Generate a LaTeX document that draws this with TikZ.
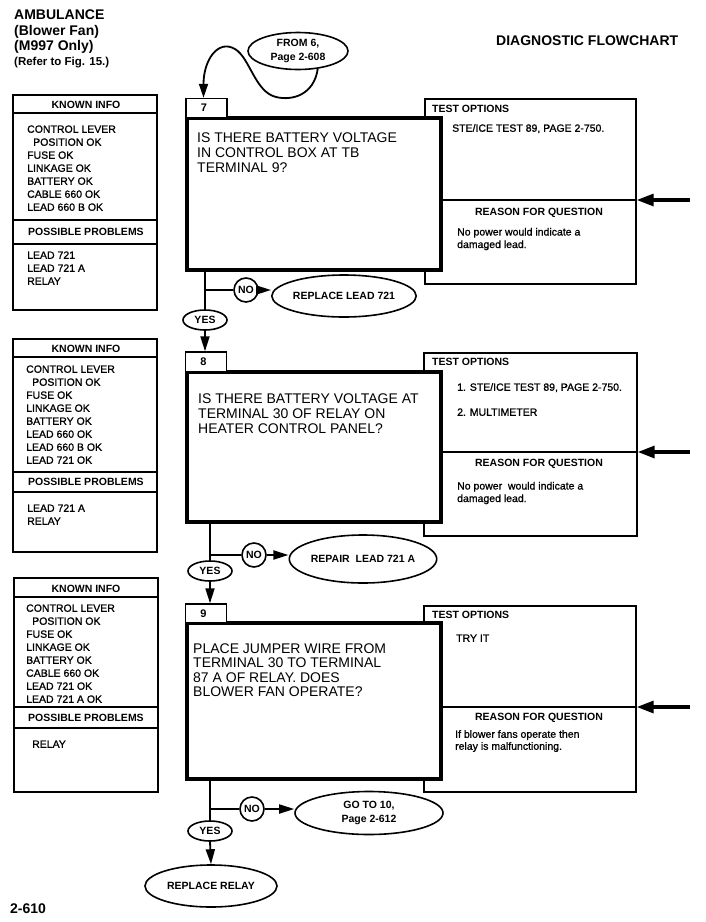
\documentclass[tikz,border=0pt]{standalone}
\usepackage{fontspec}
\setmainfont{Liberation Sans}
\newfontfamily\itemfont[FakeBold=1.1]{Liberation Sans}
\usetikzlibrary{shapes.geometric,arrows.meta}
\begin{document}
\begin{tikzpicture}[x=1pt,y=-1pt,
  frame/.style={draw, line width=1.4pt, inner sep=0pt},
  mainq/.style={draw, line width=4pt, fill=white, inner sep=0pt, minimum width=254pt},
  numbox/.style={draw, line width=1.4pt, fill=white, inner sep=0pt, minimum width=41pt, minimum height=19pt, font=\bfseries\fontsize{11}{13}\selectfont},
  item/.style={anchor=base west, inner sep=0pt, font=\itemfont\fontsize{10.5}{13}\selectfont},
  head/.style={anchor=base, inner sep=0pt, font=\bfseries\fontsize{10.5}{13}\selectfont},
  bhead/.style={anchor=base west, inner sep=0pt, font=\bfseries\fontsize{10.5}{13}\selectfont},
  qline/.style={anchor=base west, inner sep=0pt, font=\fontsize{14}{15}\selectfont},
  title/.style={anchor=base west, inner sep=0pt, font=\bfseries\fontsize{14}{16}\selectfont},
  oval/.style={draw, ellipse, line width=1.6pt, fill=white, inner sep=0pt, align=center, font=\bfseries\fontsize{10.5}{13.5}\selectfont},
  yesoval/.style={oval, minimum width=44pt, minimum height=20pt},
  nocirc/.style={draw, circle, line width=1.6pt, fill=white, inner sep=0pt, minimum size=24pt, font=\bfseries\fontsize{10.5}{13}\selectfont},
  conn/.style={line width=1.8pt},
  tip/.style={conn, -{Triangle[length=15pt,width=9pt]}},
  bigtip/.style={line width=3.2pt, -{Triangle[length=17pt,width=12pt]}},
  divider/.style={line width=1.4pt}
]
\useasboundingbox (0,0) rectangle (705,922);

% ---------- header ----------
\node[title] (h1) at (14,19.3) {AMBULANCE};
\node[title] (h2) at (14,35) {(Blower Fan)};
\node[title] (h3) at (14,50.5) {(M997 Only)};
\node[anchor=base west, inner sep=0pt, font=\bfseries\fontsize{11.5}{13}\selectfont] (h4) at (14,65.5) {(Refer to Fig. 15.)};
\node[title] (h5) at (496,45) {DIAGNOSTIC FLOWCHART};
\node[title] (pg) at (10,913) {2-610};

% ---------- block 7 ----------
\node[frame, minimum width=144pt, minimum height=215pt] (KI7) at (85,202.5) {};
\draw[divider] (13,113) -- (157,113);
\draw[divider] (13,220) -- (157,220);
\draw[divider] (13,244) -- (157,244);
\node[head] (kh7) at (86,108.75) {KNOWN INFO};
\node[head] (ph7) at (86,235.75) {POSSIBLE PROBLEMS};
\foreach \t [count=\i] in {CONTROL LEVER, {\hspace*{6pt}POSITION OK}, FUSE OK, LINKAGE OK, BATTERY OK, CABLE 660 OK, LEAD 660 B OK}
  \node[item] (k7-\i) at (27,{132.75+13*(\i-1)}) {\t};
\foreach \t [count=\i] in {LEAD 721, LEAD 721 A, RELAY}
  \node[item] (p7-\i) at (27,{258.75+13*(\i-1)}) {\t};

\node[frame, minimum width=211pt, minimum height=185pt] (TO7) at (530.5,191.5) {};
\draw[divider] (425,200) -- (636,200);
\node[mainq, minimum height=152pt] (Q7) at (314,194) {};
\node[numbox] (L7) at (206.5,108) {\hspace*{-5pt}7};
\foreach \t [count=\i] in {IS THERE BATTERY VOLTAGE, IN CONTROL BOX AT TB, TERMINAL 9?}
  \node[qline] (q7-\i) at (197,{142+15*(\i-1)}) {\t};
\node[bhead] (to7) at (432,112) {TEST OPTIONS};
\node[item] (t7-1) at (452,131.75) {STE/ICE TEST 89, PAGE 2-750.};
\node[head] (rq7) at (539,215) {REASON FOR QUESTION};
\node[item] (r7-1) at (457,235.5) {No power would indicate a};
\node[item] (r7-2) at (457,248) {damaged lead.};
\coordinate (A7) at (690,200);
\draw[bigtip] (A7) -- (A7 -| TO7.east);

\node[oval, minimum width=100pt, minimum height=37pt] (F6) at (298,51) {FROM 6,\\Page 2-608};
\draw[conn, -{Triangle[length=14pt,width=9pt]}] (F6.-42) .. controls (314,95) and (292,101) .. (276,97)
  .. controls (255,92) and (250,58) .. (235,49) .. controls (218,39) and (203.5,60) .. ([xshift=-3pt]L7.north);

\node[yesoval] (Y7) at (205,320) {YES};
\node[nocirc] (N7) at (246,290) {NO};
\node[oval, minimum width=132pt, minimum height=42pt] (R7) at (344,296) {REPLACE LEAD 721};
\draw[conn] (Q7.south -| Y7) -- (Y7.north);
\coordinate (J7) at (Y7 |- N7);
\draw[conn] (J7) -- (N7.west);
\draw[tip] (N7.east) -- (N7 -| R7.west);

% ---------- block 8 ----------
\node[frame, minimum width=144pt, minimum height=213pt] (KI8) at (85,445.5) {};
\draw[divider] (13,357) -- (157,357);
\draw[divider] (13,472) -- (157,472);
\draw[divider] (13,492) -- (157,492);
\node[head] (kh8) at (86,352.5) {KNOWN INFO};
\node[head] (ph8) at (86,485.75) {POSSIBLE PROBLEMS};
\foreach \t [count=\i] in {CONTROL LEVER, {\hspace*{6pt}POSITION OK}, FUSE OK, LINKAGE OK, BATTERY OK, LEAD 660 OK, LEAD 660 B OK, LEAD 721 OK}
  \node[item] (k8-\i) at (26,{372.75+13*(\i-1)}) {\t};
\foreach \t [count=\i] in {LEAD 721 A, RELAY}
  \node[item] (p8-\i) at (27,{511.75+13*(\i-1)}) {\t};

\node[frame, minimum width=213pt, minimum height=183pt] (TO8) at (530.5,444.5) {};
\draw[divider] (424,452) -- (637,452);
\node[mainq, minimum height=150pt] (Q8) at (314,447) {};
\node[numbox, minimum height=20pt] (L8) at (206,362) {\hspace*{-5pt}8};
\foreach \t [count=\i] in {IS THERE BATTERY VOLTAGE AT, TERMINAL 30 OF RELAY ON, HEATER CONTROL PANEL?}
  \node[qline] (q8-\i) at (198,{403+15*(\i-1)}) {\t};
\node[bhead] (to8) at (432,365.75) {TEST OPTIONS};
\node[item] (t8-1) at (457,390.75) {1. STE/ICE TEST 89, PAGE 2-750.};
\node[item] (t8-2) at (457,415.75) {2. MULTIMETER};
\node[head] (rq8) at (539,466.75) {REASON FOR QUESTION};
\node[item] (r8-1) at (457,489.5) {No power\ \ would indicate a};
\node[item] (r8-2) at (457,502) {damaged lead.};
\coordinate (A8) at (690,452);
\draw[bigtip] (A8) -- (A8 -| TO8.east);

\draw[tip] (Y7.south) -- (Y7 |- L8.north);

\node[yesoval] (Y8) at (210,571) {YES};
\node[nocirc] (N8) at (254,555) {NO};
\node[oval, minimum width=140pt, minimum height=48pt] (R8) at (363,559) {REPAIR\ \ LEAD 721 A};
\draw[conn] (Q8.south -| Y8) -- (Y8.north);
\coordinate (J8) at (Y8 |- N8);
\draw[conn] (J8) -- (N8.west);
\draw[tip] (N8.east) -- (N8 -| R8.west);

% ---------- block 9 ----------
\node[frame, minimum width=144pt, minimum height=214pt] (KI9) at (86,685) {};
\draw[divider] (14,597) -- (158,597);
\draw[divider] (14,707) -- (158,707);
\draw[divider] (14,728) -- (158,728);
\node[head] (kh9) at (86,592.5) {KNOWN INFO};
\node[head] (ph9) at (86,721.75) {POSSIBLE PROBLEMS};
\foreach \t [count=\i] in {CONTROL LEVER, {\hspace*{6pt}POSITION OK}, FUSE OK, LINKAGE OK, BATTERY OK, CABLE 660 OK, LEAD 721 OK, LEAD 721 A OK}
  \node[item] (k9-\i) at (26,{611.75+13*(\i-1)}) {\t};
\node[item] (p9-1) at (32,747.75) {RELAY};

\node[frame, minimum width=212pt, minimum height=186pt] (TO9) at (530,699) {};
\draw[divider] (424,707) -- (636,707);
\node[mainq, minimum height=156pt] (Q9) at (314,701) {};
\node[numbox] (L9) at (206,613.5) {\hspace*{-5pt}9};
\foreach \t [count=\i] in {PLACE JUMPER WIRE FROM, TERMINAL 30 TO TERMINAL, 87 A OF RELAY. DOES, BLOWER FAN OPERATE?}
  \node[qline] (q9-\i) at (193,{653+14.5*(\i-1)}) {\t};
\node[bhead] (to9) at (432,618.75) {TEST OPTIONS};
\node[item] (t9-1) at (456,641.75) {TRY IT};
\node[head] (rq9) at (539,720.75) {REASON FOR QUESTION};
\node[item] (r9-1) at (455,737.75) {If blower fans operate then};
\node[item] (r9-2) at (455,749.75) {relay is malfunctioning.};
\coordinate (A9) at (690,707);
\draw[bigtip] (A9) -- (A9 -| TO9.east);

\draw[tip] (Y8.south) -- (Y8 |- L9.north);

\node[yesoval] (Y9) at (210,831) {YES};
\node[nocirc] (N9) at (252,809) {NO};
\node[oval, minimum width=148pt, minimum height=43pt] (G9) at (369,813) {GO TO 10,\\Page 2-612};
\node[oval, minimum width=132pt, minimum height=42pt] (RR) at (211,886) {REPLACE RELAY};
\draw[conn] (Q9.south -| Y9) -- (Y9.north);
\coordinate (J9) at (Y9 |- N9);
\draw[conn] (J9) -- (N9.west);
\draw[tip] (N9.east) -- (N9 -| G9.west);
\draw[tip] (Y9.south) -- (RR.north);
\end{tikzpicture}
\end{document}
